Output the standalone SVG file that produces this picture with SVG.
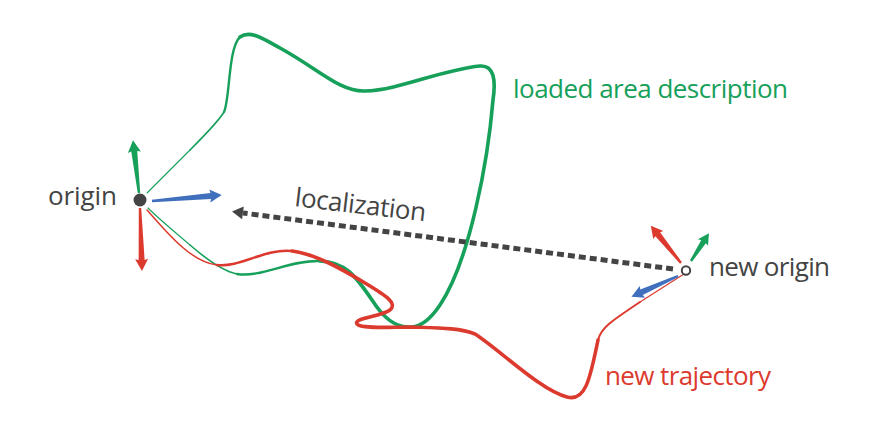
<svg xmlns="http://www.w3.org/2000/svg" width="876" height="424" viewBox="0 0 876 424">
<style>
.g{fill:none;stroke:#16a05a;stroke-linecap:round;stroke-linejoin:round}
.r{fill:none;stroke:#dc3a2e;stroke-linecap:round;stroke-linejoin:round}
.fg{fill:#16a05a}.fr{fill:#dc3a2e}.fb{fill:#3f6fbd}
.t{font-family:"Open Sans","Noto Sans",sans-serif;font-size:26px;font-weight:500}
.tg{fill:#444}
</style>
<rect width="876" height="424" fill="#fff"/>
<g id="connectors">
  <g id="area">
    <path class="g" stroke-width="1.1" d="M147,193 C160,180 175,165 190,150"/>
    <path class="g" stroke-width="1.6" d="M190,150 C205,135 218,122 224,112"/>
    <path class="g" stroke-width="2.4" d="M224,112 C230,100 228,48 240,37"/>
    <path class="g" stroke-width="3.6" d="M240,37 C250,30 262,38 280,48 C320,70 340,92 365,91 C400,90 440,70 480,66 C494,65 496,80 493,100 C488,160 470,260 440,305 C428,323 418,328 408,327 C395,326 385,320 372,300 C355,275 345,262 320,261"/>
    <path class="g" stroke-width="2.4" d="M320,261 C290,260 260,278 237,274"/>
    <path class="g" stroke-width="1.6" d="M237,274 C222,271 205,258 190,245"/>
    <path class="g" stroke-width="1.1" d="M190,245 C175,232 160,220 148,208"/>
  </g>
  <g id="trajectory">
    <path class="r" stroke-width="1.5" d="M147,210 C165,230 190,262 217,265"/>
    <path class="r" stroke-width="2.6" d="M217,265 C240,268 265,248 292,251"/>
    <path class="r" stroke-width="3.6" d="M292,251 C315,254 340,268 365,283 C385,295 398,303 390,310 C380,317 353,318 357,324 C360,329 390,327 410,327 C440,328 460,328 475,334 C500,350 540,390 567,397 C585,402 590,380 598,340"/>
    <path class="r" stroke-width="2" d="M598,340 C601,328 610,322 640,302"/>
    <path class="r" stroke-width="1.2" d="M640,302 L684,274"/>
  </g>
  <g id="localization">
    <line x1="673" y1="269" x2="243" y2="213" stroke="#444" stroke-width="5" stroke-dasharray="7 4"/>
    <polygon fill="#444" transform="translate(232,211.5) rotate(7.4)" points="0,0 11,-6.5 11,6.5"/>
  </g>
</g>
<g id="origin">
  <polygon class="fg" transform="translate(139,193) rotate(-96.5)" points="0,-1.2 42,-3 41,-6.5 53,0 41,6.5 42,3 0,1.2"/>
  <polygon class="fb" transform="translate(152,201) rotate(-4.9)" points="0,-1.2 59,-3 58,-6.5 70,0 58,6.5 59,3 0,1.2"/>
  <polygon class="fr" transform="translate(140,208) rotate(88.2)" points="0,-1.2 52,-3 51,-6.5 63,0 51,6.5 52,3 0,1.2"/>
  <circle cx="140" cy="200" r="6.5" fill="#444"/>
  <text class="t tg" x="48" y="205" textLength="69">origin</text>
</g>
<g id="new-origin">
  <polygon class="fr" transform="translate(681,263) rotate(-129)" points="0,-1.2 37,-3 36,-6.5 48,0 36,6.5 37,3 0,1.2"/>
  <polygon class="fg" transform="translate(691,261) rotate(-57)" points="0,-1.2 23,-2.8 22,-6 33,0 22,6 23,2.8 0,1.2"/>
  <polygon class="fb" transform="translate(678,276) rotate(155.9)" points="0,-1.2 40,-3 39,-6.5 51,0 39,6.5 40,3 0,1.2"/>
  <circle cx="686" cy="270.5" r="4.2" fill="#fff" stroke="#444" stroke-width="2"/>
  <text class="t tg" x="709" y="276" textLength="121">new origin</text>
</g>
<g id="label-area">
  <text class="t" fill="#16a05a" x="513" y="98" textLength="275">loaded area description</text>
</g>
<g id="label-trajectory">
  <text class="t" fill="#dc3a2e" x="605" y="385" textLength="166">new trajectory</text>
</g>
<g id="label-localization">
  <text class="t tg" transform="translate(294,206) rotate(6.7)" x="0" y="0" textLength="132">localization</text>
</g>
</svg>
